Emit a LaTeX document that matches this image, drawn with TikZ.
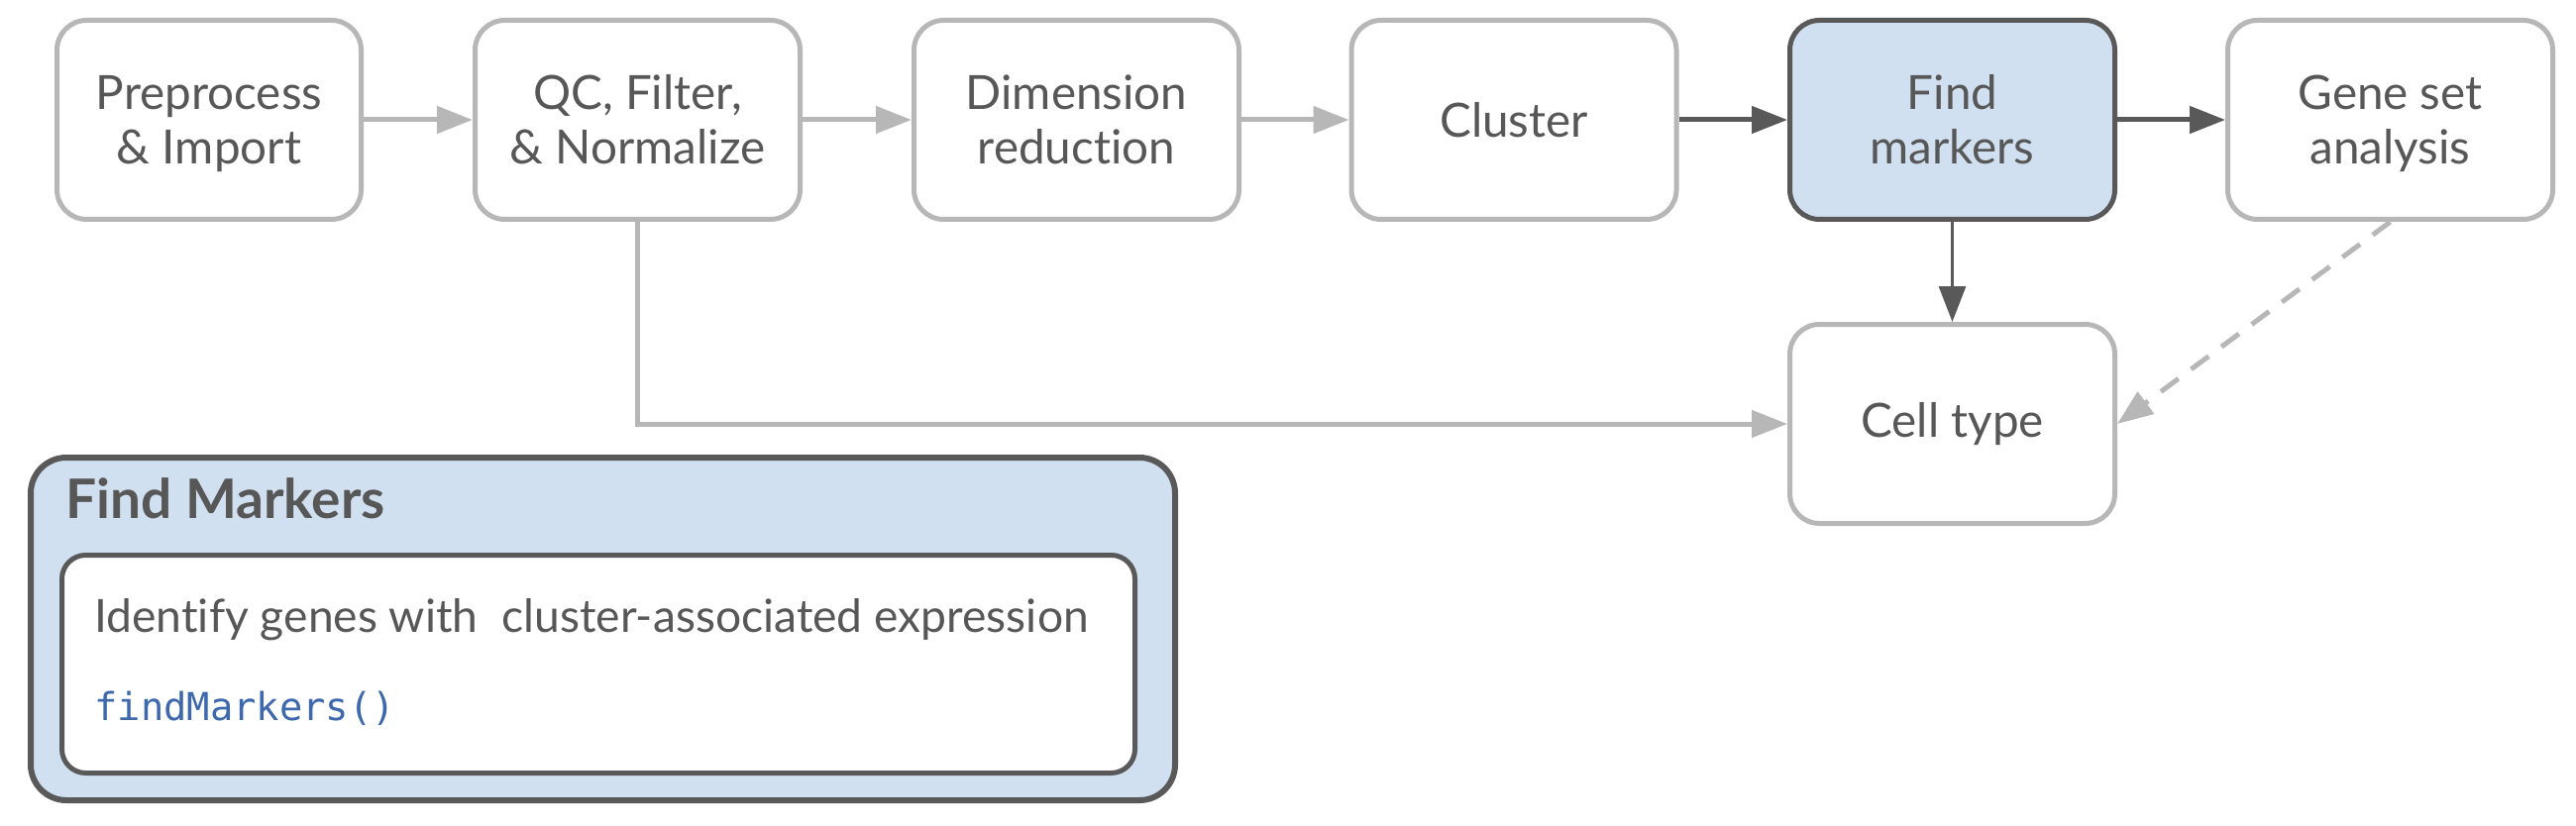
\documentclass[tikz,border=0pt]{standalone}
\usepackage{fontspec}
\setmainfont{Lato}[Ligatures=NoCommon]
\newfontfamily\codefont{DejaVu Sans Mono}
\usetikzlibrary{arrows.meta}
\definecolor{lgray}{HTML}{B7B7B7}
\definecolor{dgray}{HTML}{595959}
\definecolor{txtc}{HTML}{575757}
\definecolor{lblue}{HTML}{D1E0F0}
\definecolor{codeblue}{HTML}{3D68AC}
\newcommand\twoline[2]{\rule{0pt}{25pt}#1\\#2\rule[-7.5pt]{0pt}{7.5pt}}
\tikzset{
  stepbox/.style={draw=lgray, line width=2.5pt, fill=white, rounded corners=15pt,
    minimum width=164pt, minimum height=100.5pt, inner sep=0pt, align=center,
    text=txtc, font=\fontsize{23.8}{27.5}\selectfont},
  hlbox/.style={stepbox, draw=dgray, fill=lblue},
  larr/.style={draw=lgray, line width=2.5pt, -{Triangle[length=18pt,width=13.5pt]}},
  darr/.style={draw=dgray, line width=2.5pt, -{Triangle[length=18pt,width=13.5pt]}},
  thinarr/.style={draw=dgray, line width=1.5pt, -{Triangle[length=18pt,width=13.5pt]}},
  dasharr/.style={draw=lgray, line width=2.5pt, dash pattern=on 11pt off 8pt, -{Triangle[length=18pt,width=13.5pt]}},
}
\begin{document}
\begin{tikzpicture}[x=0.5pt,y=-0.5pt]
\useasboundingbox (0,0) rectangle (2600,834);
\node[stepbox, minimum width=153.5pt] (b1) at (211,121) {\twoline{Preprocess}{\& Import}};
\node[stepbox] (b2) at (643.5,121) {\twoline{QC, Filter,}{\& Normalize}};
\node[stepbox] (b3) at (1086.5,121) {\twoline{Dimension}{reduction}};
\node[stepbox] (b4) at (1528,121) {Cluster};
\node[hlbox] (b5) at (1970.5,121) {\twoline{Find}{markers}};
\node[stepbox] (b6) at (2412.5,121) {\twoline{Gene set}{analysis}};
\node[stepbox] (cell) at (1970.5,428) {Cell type};

\draw[larr] (b1.east) -- (b2.west);
\draw[larr] (b2.east) -- (b3.west);
\draw[larr] (b3.east) -- (b4.west);
\draw[darr] (b4.east) -- (b5.west);
\draw[darr] (b5.east) -- (b6.west);
\draw[thinarr] (b5.south) -- (cell.north);
\draw[dasharr] (b6.south) -- (cell.east);
\draw[larr] (b2.south) |- (cell.west);

\node[draw=dgray, line width=3pt, fill=lblue, rounded corners=18pt, minimum width=577.5pt, minimum height=173pt, inner sep=0pt] (panel) at (608.5,635) {};
\node[draw=dgray, line width=2.5pt, fill=white, rounded corners=12pt, minimum width=541.5pt, minimum height=110pt, inner sep=0pt] (inner) at (604,670.5) {};
\node[anchor=base west, inner sep=0pt, text=txtc, font=\fontsize{27.5}{32}\selectfont\bfseries] (title) at (66,523) {Find Markers};
\node[anchor=base west, inner sep=0pt, text=txtc, font=\fontsize{23.1}{27.5}\selectfont] (desc) at (95,638) {Identify genes with\ \ cluster-associated expression};
\node[anchor=base west, inner sep=0pt, text=codeblue, font=\fontsize{19.4}{22}\codefont] (code) at (95,727) {findMarkers()};
\end{tikzpicture}
\end{document}
